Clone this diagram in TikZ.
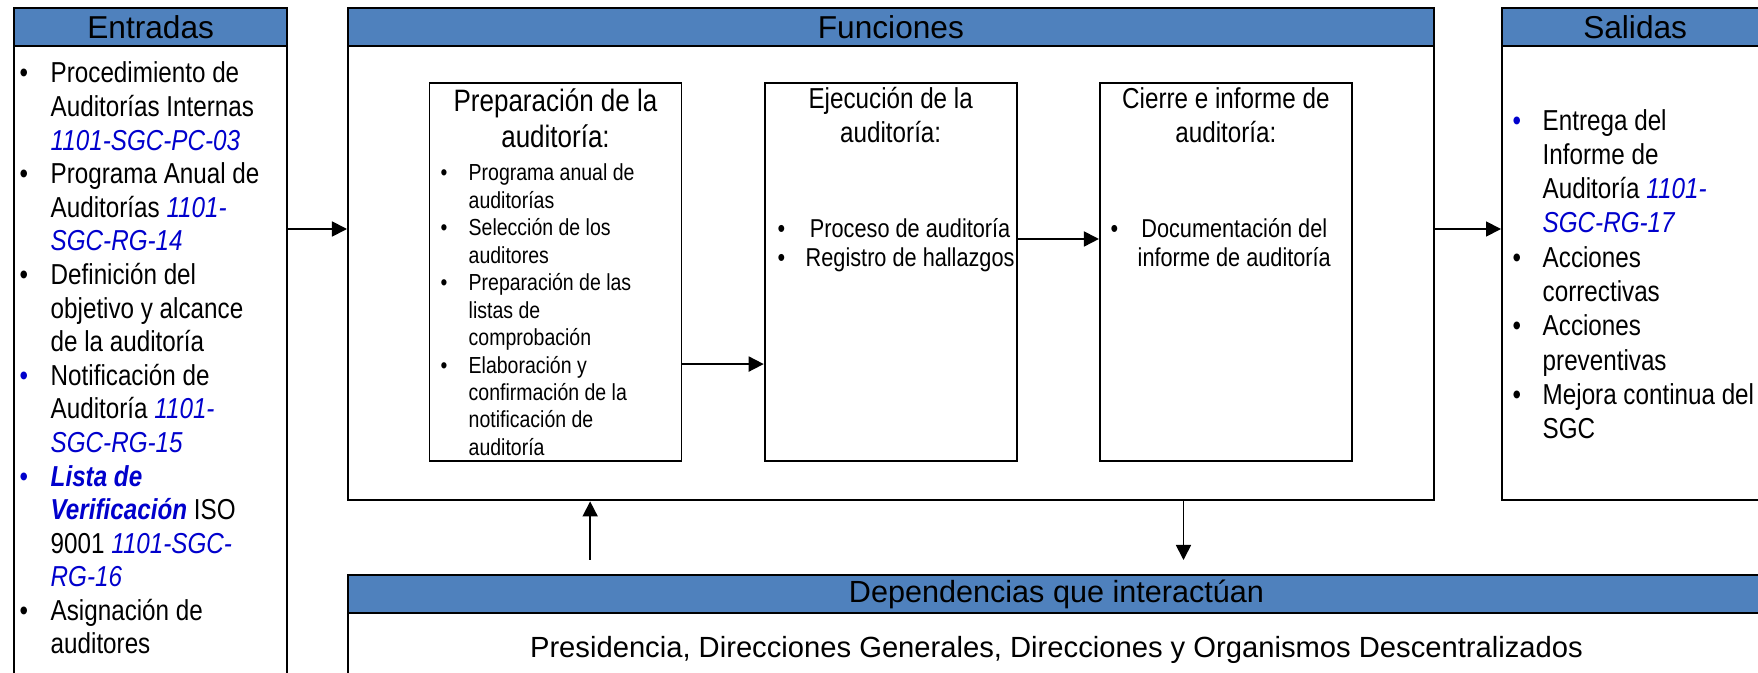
\documentclass[tikz,border=0pt]{standalone}
\usepackage{fontspec}
\setmainfont{Liberation Sans}
\newfontfamily\narrowfont[FakeStretch=0.84]{Liberation Sans}
\usetikzlibrary{positioning,arrows.meta}
\definecolor{headblue}{RGB}{79,129,189}
\definecolor{codeblue}{RGB}{0,0,204}
\newcommand{\cod}[1]{\textcolor{codeblue}{\itshape #1}}
\newcommand{\bul}{\textbullet}
\newcommand{\bbul}{\textcolor{codeblue}{\textbullet}}

\begin{document}
\begin{tikzpicture}[x=0.01cm, y=-0.01cm, node distance=3.35cm]
    \tikzset{
    frame/.style={
        rectangle,
        draw,
        line width=0.6pt,
        inner sep=0pt,
        anchor=north west
    },
    header/.style={
        rectangle,
        draw,
        line width=0.6pt,
        fill=headblue,
        inner sep=0pt,
        minimum height=0.38cm,
        anchor=north,
        font=\fontsize{9}{10}\selectfont
    },
    stage/.style={
        rectangle,
        draw,
        line width=0.5pt,
        minimum width=2.52cm,
        minimum height=3.78cm,
        inner sep=0pt
    },
    title/.style={
        align=center,
        anchor=base,
        inner sep=0pt,
        font=\narrowfont\fontsize{8.2}{9.4}\selectfont
    },
    list/.style={
        anchor=base west,
        inner sep=0pt,
        font=\narrowfont\fontsize{8.2}{9.55}\selectfont
    },
    arrow/.style={
        -{Triangle[length=1.5mm, width=1.5mm]}, line width=0.5pt
    }
}
    \clip (0,0) rectangle (1758,673);

    % Marcos
    \node[frame, minimum width=2.73cm, minimum height=7cm] (ent) at (13,7) {};
    \node[header, minimum width=2.73cm] (enthead) at (ent.north) {Entradas};
    \node[frame, minimum width=10.85cm, minimum height=4.92cm] (fun) at (347,7) {};
    \node[header, minimum width=10.85cm] (funhead) at (fun.north) {Funciones};
    \node[frame, minimum width=2.66cm, minimum height=4.92cm] (sal) at (1501,7) {};
    \node[header, minimum width=2.66cm] (salhead) at (sal.north) {Salidas};
    \node[frame, minimum width=14.16cm, minimum height=1.5cm] (dep) at (347,574) {};
    \node[header, minimum width=14.16cm, font=\fontsize{8.7}{10}\selectfont] (dephead) at (dep.north) {Dependencias que interactúan};
    \node[anchor=base, inner sep=0pt, font=\fontsize{8.3}{10}\selectfont] (deptext) at ([yshift=-0.43cm]dephead.south) {Presidencia, Direcciones Generales, Direcciones y Organismos Descentralizados};

    % Listas
    \node[list] (entlist) at (19,83) {\begin{tabular}[t]{@{}p{0.31cm}@{}l@{}}
        \bul & Procedimiento de\\
             & Auditorías Internas\\
             & \cod{1101-SGC-PC-03}\\
        \bul & Programa Anual de\\
             & Auditorías \cod{1101-}\\
             & \cod{SGC-RG-14}\\
        \bul & Definición del\\
             & objetivo y alcance\\
             & de la auditoría\\
        \bbul & Notificación de\\
             & Auditoría \cod{1101-}\\
             & \cod{SGC-RG-15}\\
        \bbul & \textcolor{codeblue}{\bfseries\itshape Lista de}\\
             & \textcolor{codeblue}{\bfseries\itshape Verificación} ISO\\
             & 9001 \cod{1101-SGC-}\\
             & \cod{RG-16}\\
        \bul & Asignación de\\
             & auditores
    \end{tabular}};
    \node[list, font=\narrowfont\fontsize{8.2}{9.75}\selectfont] (sallist) at (1512,130) {\begin{tabular}[t]{@{}p{0.30cm}@{}l@{}}
        \bbul & Entrega del\\
             & Informe de\\
             & Auditoría \cod{1101-}\\
             & \cod{SGC-RG-17}\\
        \bul & Acciones\\
             & correctivas\\
        \bul & Acciones\\
             & preventivas\\
        \bul & Mejora continua del\\
             & SGC
    \end{tabular}};

    % Etapas
    \node[stage] (prep) at (555.5,272) {};
    \node[stage, right of = prep] (ejec) {};
    \node[stage, right of = ejec] (cierre) {};

    \node[title, font=\narrowfont\fontsize{8.8}{10}\selectfont] (preptitle) at ([yshift=-0.65cm]prep.north) {Preparación de la\\auditoría:};
    \node[title] (ejectitle) at ([yshift=-0.60cm]ejec.north) {Ejecución de la\\auditoría:};
    \node[title] (cierretitle) at ([yshift=-0.60cm]cierre.north) {Cierre e informe de\\auditoría:};

    \node[list, font=\narrowfont\fontsize{6.6}{7.8}\selectfont] (preplist) at (440,181) {\begin{tabular}[t]{@{}p{0.28cm}@{}l@{}}
        \bul & Programa anual de\\
             & auditorías\\
        \bul & Selección de los\\
             & auditores\\
        \bul & Preparación de las\\
             & listas de\\
             & comprobación\\
        \bul & Elaboración y\\
             & confirmación de la\\
             & notificación de\\
             & auditoría
    \end{tabular}};
    \node[list, font=\narrowfont\fontsize{7.35}{8.25}\selectfont] (ejeclist) at (777,237) {\begin{tabular}[t]{@{}p{0.28cm}@{}c@{}}
        \bul & Proceso de auditoría\\
        \bul & Registro de hallazgos
    \end{tabular}};
    \node[list, font=\narrowfont\fontsize{7.35}{8.25}\selectfont] (cierrelist) at (1110,237) {\begin{tabular}[t]{@{}p{0.27cm}@{}c@{}}
        \bul & Documentación del\\
             & informe de auditoría
    \end{tabular}};

    % Flechas
    \coordinate (inrow) at (0,229);
    \draw[arrow] (ent.east |- inrow) -- (fun.west |- inrow);
    \draw[arrow] (fun.east |- inrow) -- (sal.west |- inrow);
    \draw[arrow] ([yshift=-0.92cm]prep.east) -- ([yshift=-0.92cm]ejec.west);
    \draw[arrow] ([yshift=0.33cm]ejec.east) -- ([yshift=0.33cm]cierre.west);
    \draw[arrow] ([xshift=2.43cm, yshift=0.14cm]dep.north west) -- ([xshift=2.43cm]fun.south west);
    \draw[arrow] ([xshift=8.36cm]fun.south west) -- ([xshift=8.36cm, yshift=0.14cm]dep.north west);
\end{tikzpicture}
\end{document}
